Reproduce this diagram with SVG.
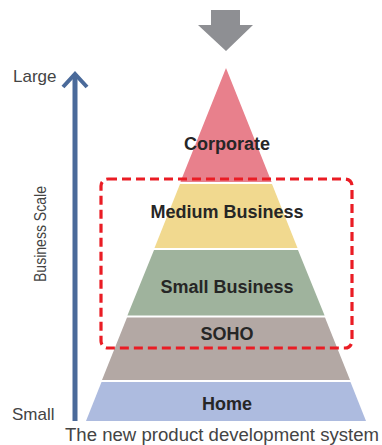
<svg xmlns="http://www.w3.org/2000/svg" width="382" height="445" viewBox="0 0 382 445">
<style>
.lbl{font-family:"Liberation Sans",Arial,sans-serif;font-weight:bold;font-size:18px;fill:#262626;text-anchor:middle}
.side{font-family:"Liberation Sans",Arial,sans-serif;font-size:17px;fill:#444}
</style>
<rect width="382" height="445" fill="#fff"/>
<g id="top-arrow"><polygon points="211,10 240,10 240,25 253,25 226,51 198,25 211,25" fill="#8e8f93"/></g>
<g id="scale-axis">
<line x1="75" y1="421" x2="75" y2="74" stroke="#4a6a9a" stroke-width="5"/>
<polyline points="63,87 75,74 87,87" fill="none" stroke="#4a6a9a" stroke-width="4"/>
<text class="side" x="13" y="82">Large</text>
<text class="side" x="12" y="420">Small</text>
<text class="side" transform="translate(46,282) rotate(-90)" textLength="96" lengthAdjust="spacingAndGlyphs">Business Scale</text>
</g>
<g id="corporate"><polygon points="226,68 271.6,182 180.4,182" fill="#e8808c"/><text class="lbl" x="227" y="150">Corporate</text></g>
<g id="medium"><polygon points="180,184 272,184 297.5,248 154.5,248" fill="#f1d98f"/><text class="lbl" x="227" y="218">Medium Business</text></g>
<g id="small"><polygon points="154,250 298,250 324.6,315.5 127.4,315.5" fill="#9fb39d"/><text class="lbl" x="227" y="293">Small Business</text></g>
<g id="soho"><polygon points="127,317.5 325,317.5 350,380 102,380" fill="#b3a8a4"/><text class="lbl" x="227" y="340">SOHO</text></g>
<g id="home"><polygon points="101.5,382 350.5,382 366,421 86,421" fill="#adbbdf"/><text class="lbl" x="227" y="410">Home</text></g>
<g id="connectors">
<rect x="101" y="179" width="251" height="169" rx="7" fill="none" stroke="#ea1c24" stroke-width="3.2" stroke-dasharray="9,5"/>
</g>
<text x="65" y="441" font-family="Liberation Sans,Arial,sans-serif" font-size="18" fill="#444" textLength="314" lengthAdjust="spacingAndGlyphs">The new product development system</text>
</svg>
